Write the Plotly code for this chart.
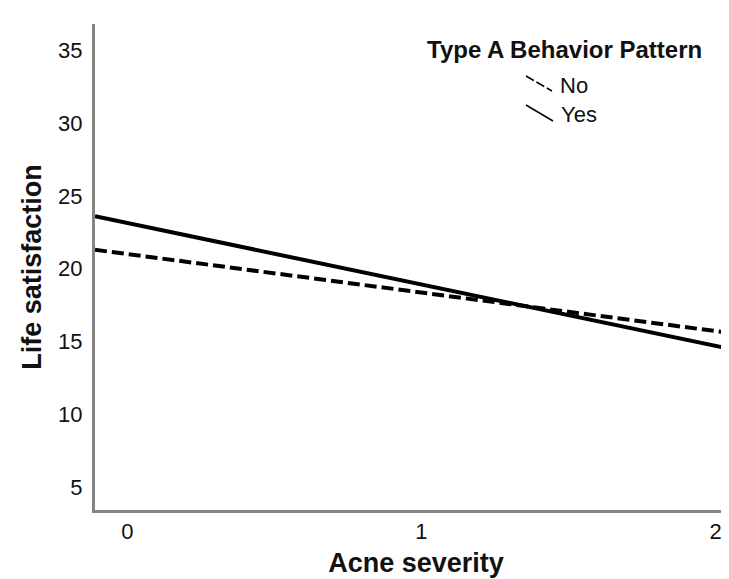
import plotly.graph_objects as go

# ---- data ----
acne_severity = [-0.11, 2.073]          # fit lines span the whole x axis
life_sat_no = [21.3, 15.53]             # Type A = No  (dashed)
life_sat_yes = [23.6, 14.4]             # Type A = Yes (solid)
x_ticks = [0, 1, 2]
y_ticks = [5, 10, 15, 20, 25, 30, 35]
legend_title = "Type A Behavior Pattern"
group_names = ["No", "Yes"]

W, H = 729, 579
ML, MR, MT, MB = 87, 0, 16, 77
FONT = "Liberation Sans"

def px(x):
    return (x - ML) / (W - ML - MR)

def py(y):
    return (H - MB - y) / (H - MT - MB)

fig = go.Figure()
fig.add_trace(go.Scatter(x=acne_severity, y=life_sat_no, mode="lines", name=group_names[0],
                         line=dict(color="black", width=4, dash="12px,5px"), showlegend=False))
fig.add_trace(go.Scatter(x=acne_severity, y=life_sat_yes, mode="lines", name=group_names[1],
                         line=dict(color="black", width=4), showlegend=False))

axis_common = dict(showgrid=False, zeroline=False, showline=True, linecolor="#858585", linewidth=3,
                   ticks="", tickfont=dict(family=FONT, size=22, color="#111111"))

fig.update_xaxes(range=[-0.11, 2.073], tickvals=x_ticks, ticklabelstandoff=0,
                 title=dict(text="Acne severity", font=dict(family=FONT, size=27, color="#111111", weight="bold"),
                            standoff=10),
                 **axis_common)
fig.update_yaxes(range=[3.44, 36.8], tickvals=y_ticks, ticklabelstandoff=5,
                 title=dict(text="Life satisfaction", font=dict(family=FONT, size=27, color="#111111", weight="bold"),
                            standoff=9),
                 **axis_common)

annotations = [
    dict(text=legend_title, x=px(556), y=py(42), xref="paper", yref="paper", showarrow=False,
         xanchor="center", yanchor="middle", font=dict(family=FONT, size=24, color="#111111", weight="bold")),
    dict(text=group_names[0], x=px(550), y=py(78), xref="paper", yref="paper", showarrow=False,
         xanchor="left", yanchor="middle", font=dict(family=FONT, size=22, color="#111111")),
    dict(text=group_names[1], x=px(551), y=py(106), xref="paper", yref="paper", showarrow=False,
         xanchor="left", yanchor="middle", font=dict(family=FONT, size=22, color="#111111")),
]
shapes = [
    dict(type="line", xref="paper", yref="paper", x0=px(518), y0=py(68), x1=px(544), y1=py(83),
         line=dict(color="black", width=1.5, dash="9px,3px")),
    dict(type="line", xref="paper", yref="paper", x0=px(518), y0=py(97), x1=px(545), y1=py(113),
         line=dict(color="black", width=1.5)),
]

fig.update_layout(width=W, height=H, margin=dict(l=ML, r=MR, t=MT, b=MB, autoexpand=False),
                  plot_bgcolor="white", paper_bgcolor="white",
                  annotations=annotations, shapes=shapes, showlegend=False)

fig.write_html("out.html")
